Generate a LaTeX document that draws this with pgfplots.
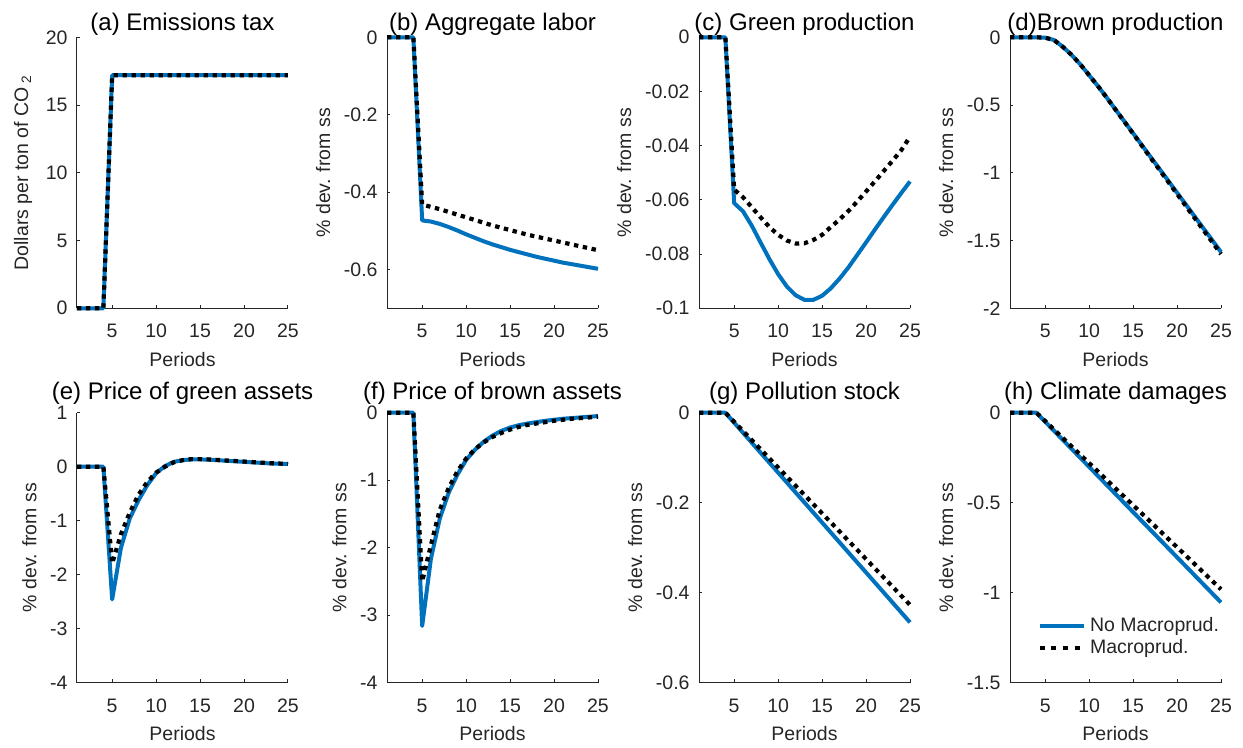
\documentclass[border=0pt]{standalone}
\usepackage{fontspec}
\setmainfont{Liberation Sans}
\usepackage{pgfplots}
\pgfplotsset{compat=1.18}
\usepackage{pgfplotstable}
\definecolor{mblue}{rgb}{0,0.447,0.741}
\definecolor{axgray}{gray}{0.15}

\pgfplotstableread{
t nm m
1 0 0
2 0 0
3 0 0
4 0 0
5 17.2 17.2
6 17.2 17.2
7 17.2 17.2
8 17.2 17.2
9 17.2 17.2
10 17.2 17.2
11 17.2 17.2
12 17.2 17.2
13 17.2 17.2
14 17.2 17.2
15 17.2 17.2
16 17.2 17.2
17 17.2 17.2
18 17.2 17.2
19 17.2 17.2
20 17.2 17.2
21 17.2 17.2
22 17.2 17.2
23 17.2 17.2
24 17.2 17.2
25 17.2 17.2
}\tA

\pgfplotstableread{
t nm m
1 0 0
2 0 0
3 0 0
4 0 0
5 -0.473 -0.432
6 -0.476 -0.438
7 -0.482 -0.444
8 -0.490 -0.451
9 -0.499 -0.458
10 -0.509 -0.465
11 -0.518 -0.472
12 -0.527 -0.479
13 -0.535 -0.486
14 -0.542 -0.492
15 -0.549 -0.498
16 -0.555 -0.504
17 -0.561 -0.510
18 -0.567 -0.515
19 -0.572 -0.520
20 -0.577 -0.525
21 -0.582 -0.530
22 -0.586 -0.535
23 -0.590 -0.540
24 -0.594 -0.545
25 -0.598 -0.550
}\tB

\pgfplotstableread{
t nm m
1 0 0
2 0 0
3 0 0
4 0 0
5 -0.0612 -0.0562
6 -0.0642 -0.0590
7 -0.0695 -0.0627
8 -0.0757 -0.0664
9 -0.0818 -0.0700
10 -0.0874 -0.0729
11 -0.0920 -0.0750
12 -0.0952 -0.0761
13 -0.0969 -0.0760
14 -0.0969 -0.0748
15 -0.0954 -0.0729
16 -0.0926 -0.0700
17 -0.0890 -0.0672
18 -0.0849 -0.0641
19 -0.0803 -0.0606
20 -0.0757 -0.0569
21 -0.0710 -0.0532
22 -0.0664 -0.0494
23 -0.0619 -0.0456
24 -0.0575 -0.0417
25 -0.0532 -0.0367
}\tC

\pgfplotstableread{
t nm m
1 0 0
2 0 0
3 0 0
4 0 0
5 -0.003 -0.003
6 -0.020 -0.020
7 -0.070 -0.070
8 -0.130 -0.130
9 -0.200 -0.200
10 -0.280 -0.280
11 -0.360 -0.360
12 -0.445 -0.445
13 -0.533 -0.534
14 -0.620 -0.622
15 -0.708 -0.711
16 -0.796 -0.800
17 -0.884 -0.890
18 -0.971 -0.978
19 -1.059 -1.067
20 -1.147 -1.156
21 -1.234 -1.245
22 -1.322 -1.334
23 -1.410 -1.423
24 -1.497 -1.511
25 -1.585 -1.600
}\tD

\pgfplotstableread{
t nm m
1 0 0
2 0 0
3 0 0
4 0 0
5 -2.457 -1.79
6 -1.50 -1.25
7 -0.96 -0.85
8 -0.62 -0.52
9 -0.34 -0.28
10 -0.12 -0.11
11 0.01 0.00
12 0.09 0.08
13 0.12 0.12
14 0.135 0.14
15 0.135 0.14
16 0.13 0.135
17 0.12 0.125
18 0.11 0.115
19 0.10 0.105
20 0.09 0.095
21 0.08 0.085
22 0.07 0.075
23 0.06 0.065
24 0.055 0.058
25 0.05 0.052
}\tE

\pgfplotstableread{
t nm m
1 0 0
2 0 0
3 0 0
4 0 0
5 -3.16 -2.50
6 -2.16 -1.96
7 -1.57 -1.44
8 -1.19 -1.12
9 -0.92 -0.87
10 -0.70 -0.68
11 -0.55 -0.54
12 -0.43 -0.44
13 -0.34 -0.36
14 -0.27 -0.30
15 -0.22 -0.25
16 -0.185 -0.21
17 -0.16 -0.18
18 -0.14 -0.16
19 -0.12 -0.14
20 -0.105 -0.12
21 -0.09 -0.105
22 -0.08 -0.09
23 -0.07 -0.08
24 -0.06 -0.07
25 -0.05 -0.06
}\tF

\pgfplotstableread{
t nm m
1 0 0
2 0 0
3 0 0
4 0 0
5 -0.0222 -0.0203
6 -0.0444 -0.0407
7 -0.0666 -0.0610
8 -0.0888 -0.0813
9 -0.1110 -0.1017
10 -0.1331 -0.1220
11 -0.1553 -0.1423
12 -0.1775 -0.1627
13 -0.1997 -0.1830
14 -0.2219 -0.2033
15 -0.2441 -0.2237
16 -0.2663 -0.2440
17 -0.2885 -0.2643
18 -0.3107 -0.2847
19 -0.3329 -0.3050
20 -0.3550 -0.3253
21 -0.3772 -0.3457
22 -0.3994 -0.3660
23 -0.4216 -0.3863
24 -0.4438 -0.4067
25 -0.4660 -0.4270
}\tG

\pgfplotstableread{
t nm m
1 0 0
2 0 0
3 0 0
4 0 0
5 -0.0502 -0.0467
6 -0.1004 -0.0934
7 -0.1506 -0.1401
8 -0.2008 -0.1869
9 -0.2510 -0.2336
10 -0.3011 -0.2803
11 -0.3513 -0.3270
12 -0.4015 -0.3737
13 -0.4517 -0.4204
14 -0.5019 -0.4671
15 -0.5521 -0.5139
16 -0.6023 -0.5606
17 -0.6525 -0.6073
18 -0.7027 -0.6540
19 -0.7529 -0.7007
20 -0.8030 -0.7474
21 -0.8532 -0.7941
22 -0.9034 -0.8409
23 -0.9536 -0.8876
24 -1.0038 -0.9343
25 -1.0540 -0.9810
}\tH

\pgfplotsset{
  irf/.style={
    scale only axis, width=105.5pt,
    xmin=1, xmax=25, xtick={5,10,15,20,25},
    axis x line*=bottom, axis y line*=left,
    axis line style={draw=axgray, line width=0.5pt, -},
    tick align=inside, major tick length=1.7pt,
    every tick/.style={draw=axgray, line width=0.5pt},
    tick label style={font=\fontsize{9.75}{11}\selectfont, text=axgray},
    /pgf/number format/assume math mode=true,
    xticklabel shift=4.5pt,
    yticklabel shift=1.2pt,
    xlabel={Periods},
    xlabel style={font=\fontsize{9.75}{11}\selectfont, text=axgray},
    ylabel style={font=\fontsize{9.75}{11}\selectfont, text=axgray},
    ylabel={\% dev. from ss},
    clip=false,
  },
  row1/.style={height=135.5pt,
    title style={font=\fontsize{12}{14}\selectfont, at={(0.5,1)}, anchor=base, yshift=-2.75pt}},
  row2/.style={height=135pt,
    title style={font=\fontsize{12}{14}\selectfont, at={(0.5,1)}, anchor=base, yshift=0.75pt}},
  nm/.style={draw=mblue, line width=2pt, line join=round},
  mp/.style={draw=black, line width=2.1pt, dash pattern=on 2.2pt off 2.3pt},
}

\begin{document}
\begin{tikzpicture}
\useasboundingbox (0,0) rectangle (621.5pt,374pt);

% (a)
\begin{axis}[irf, row1, at={(38.5pt,219.85pt)}, anchor=south west,
  ymin=0, ymax=20, ytick={0,5,10,15,20},
  title={(a) Emissions tax},
  ylabel={Dollars per ton of CO\,\textsubscript{2}}]
\addplot[nm] table[x=t,y=nm]{\tA};
\addplot[mp] table[x=t,y=m]{\tA};
\end{axis}

% (b)
\begin{axis}[irf, row1, at={(193.5pt,219.85pt)}, anchor=south west,
  ymin=-0.7, ymax=0, ytick={-0.6,-0.4,-0.2,0}, yticklabels={-0.6,-0.4,-0.2,0},
  title={(b) Aggregate labor}]
\addplot[nm] table[x=t,y=nm]{\tB};
\addplot[mp] table[x=t,y=m]{\tB};
\end{axis}

% (c)
\begin{axis}[irf, row1, at={(349.5pt,219.85pt)}, anchor=south west,
  ymin=-0.1, ymax=0, ytick={-0.1,-0.08,-0.06,-0.04,-0.02,0},
  yticklabels={-0.1,-0.08,-0.06,-0.04,-0.02,0},
  title={(c) Green production}]
\addplot[nm] table[x=t,y=nm]{\tC};
\addplot[mp] table[x=t,y=m]{\tC};
\end{axis}

% (d)
\begin{axis}[irf, row1, at={(505pt,219.85pt)}, anchor=south west,
  ymin=-2, ymax=0, ytick={-2,-1.5,-1,-0.5,0},
  yticklabels={-2,-1.5,-1,-0.5,0},
  title={(d)Brown production}]
\addplot[nm] table[x=t,y=nm]{\tD};
\addplot[mp] table[x=t,y=m]{\tD};
\end{axis}

% (e)
\begin{axis}[irf, row2, at={(38.5pt,32.65pt)}, anchor=south west,
  ymin=-4, ymax=1, ytick={-4,-3,-2,-1,0,1},
  yticklabels={-4,-3,-2,-1,0,1},
  title={(e) Price of green assets}]
\addplot[nm] table[x=t,y=nm]{\tE};
\addplot[mp] table[x=t,y=m]{\tE};
\end{axis}

% (f)
\begin{axis}[irf, row2, at={(193.5pt,32.65pt)}, anchor=south west,
  ymin=-4, ymax=0, ytick={-4,-3,-2,-1,0},
  yticklabels={-4,-3,-2,-1,0},
  title={(f) Price of brown assets}]
\addplot[nm] table[x=t,y=nm]{\tF};
\addplot[mp] table[x=t,y=m]{\tF};
\end{axis}

% (g)
\begin{axis}[irf, row2, at={(349.5pt,32.65pt)}, anchor=south west,
  ymin=-0.6, ymax=0, ytick={-0.6,-0.4,-0.2,0},
  yticklabels={-0.6,-0.4,-0.2,0},
  title={(g) Pollution stock}]
\addplot[nm] table[x=t,y=nm]{\tG};
\addplot[mp] table[x=t,y=m]{\tG};
\end{axis}

% (h)
\begin{axis}[irf, row2, at={(505pt,32.65pt)}, anchor=south west,
  ymin=-1.5, ymax=0, ytick={-1.5,-1,-0.5,0},
  yticklabels={-1.5,-1,-0.5,0},
  title={(h) Climate damages},
  legend style={draw=none, fill=none, at={(0.128,0.258)}, anchor=north west,
    inner sep=0pt, font=\fontsize{9.75}{11}\selectfont, text=axgray, row sep=-1.5pt},
  legend cell align=left,
  legend image code/.code={\draw[#1] (0pt,0pt) -- (22pt,0pt);}]
\addlegendimage{draw=mblue, line width=2pt}
\addlegendentry{No Macroprud.}
\addlegendimage{draw=black, line width=2.3pt, dash pattern=on 2.5pt off 3.3pt}
\addlegendentry{Macroprud.}
\addplot[nm, forget plot] table[x=t,y=nm]{\tH};
\addplot[mp, forget plot] table[x=t,y=m]{\tH};
\end{axis}
\end{tikzpicture}
\end{document}
